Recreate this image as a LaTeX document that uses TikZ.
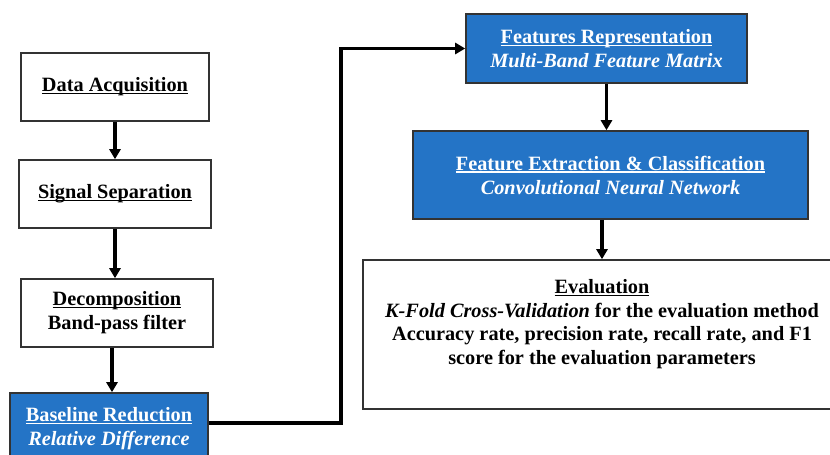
\documentclass[tikz,border=0pt]{standalone}
\usepackage{fontspec}
\setmainfont{Liberation Serif}
\usetikzlibrary{arrows.meta,positioning,calc}
\definecolor{boxblue}{HTML}{2474C6}
\definecolor{edgecol}{HTML}{333333}
\newcommand{\undl}[1]{\setbox0\hbox{#1}\rlap{\rule[-2.6pt]{\wd0}{1.3pt}}\box0}

\begin{document}
\begin{tikzpicture}[x=1pt, y=-1pt,
  stepbox/.style={draw=edgecol, line width=1.6pt, fill=white, align=center,
    inner sep=0pt, font=\fontsize{20.3}{24}\selectfont\bfseries},
  bluebox/.style={stepbox, fill=boxblue, text=white},
  arr/.style={-{Triangle[length=10pt,width=11pt]}, line width=3.4pt, black}
]
  \useasboundingbox (0,0) rectangle (830,455);
  % left column
  \node[stepbox, minimum width=188pt, minimum height=68pt] (acq) at (115, 87)
    {\undl{Data Acquisition}};
  \node[stepbox, minimum width=192pt, minimum height=68pt] (sep) at (115, 194)
    {\undl{Signal Separation}};
  \node[stepbox, minimum width=192pt, minimum height=68pt] (dec) at (117, 313)
    {\undl{Decomposition}\\Band-pass filter};
  \node[bluebox, minimum width=198pt, minimum height=72pt] (base) at (109, 429)
    {\undl{Baseline Reduction}\\\textit{Relative Difference}};
  % right column
  \node[bluebox, minimum width=281pt, minimum height=69pt] (feat) at (606.5, 48.5)
    {\undl{Features Representation}\\\textit{Multi-Band Feature Matrix}};
  \node[bluebox, minimum width=395pt, minimum height=88pt] (ext) at (610.5, 175)
    {\undl{Feature Extraction \& Classification}\\\textit{Convolutional Neural Network}};
  \node[stepbox, minimum width=478pt, minimum height=149pt] (eval) at (602, 334.5) {};
  \node[font=\fontsize{20.3}{23.5}\selectfont\bfseries, align=center] (evaltext) at (602, 324)
    {\undl{Evaluation}\\\textit{K-Fold Cross-Validation} for the evaluation method\\
     Accuracy rate, precision rate, recall rate, and F1\\score for the evaluation parameters};
  % connectors
  \draw[arr] (acq.south) -- (acq.south |- sep.north);
  \draw[arr] (sep.south) -- (sep.south |- dec.north);
  \draw[arr] ([xshift=-5pt]dec.south) -- ([xshift=-5pt]dec.south |- base.north);
  \draw[arr] ([yshift=6pt]base.east) -- ++(132,0) |- (feat.west);
  \draw[arr] (feat.south) -- (feat.south |- ext.north);
  \draw[arr] (ext.south -| eval.north) -- (eval.north);
\end{tikzpicture}
\end{document}
